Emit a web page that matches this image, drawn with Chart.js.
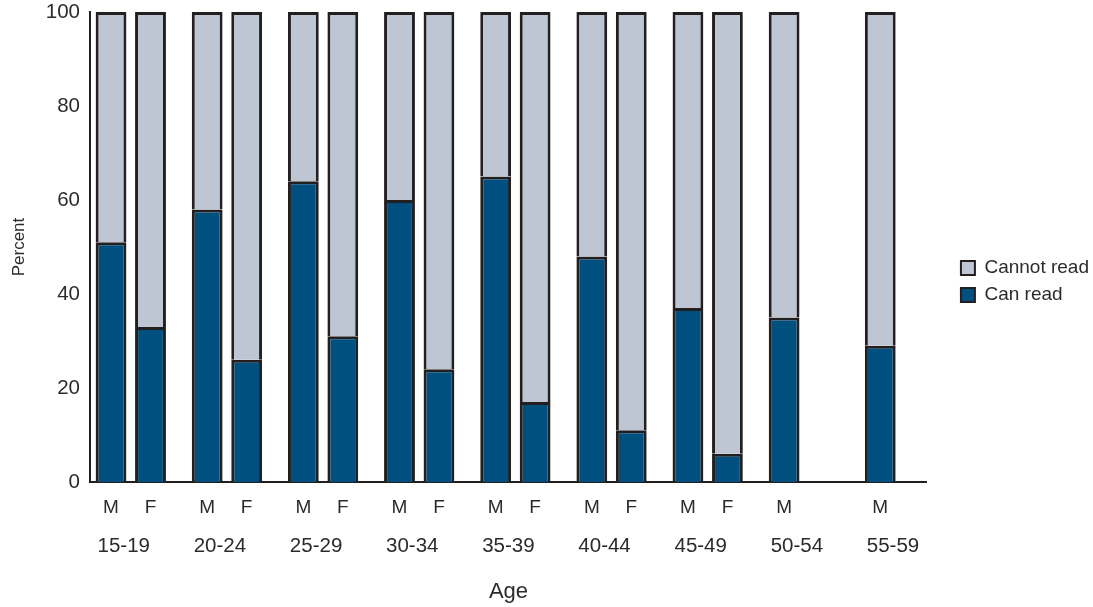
<!DOCTYPE html>
<html>
<head>
<meta charset="utf-8">
<script src="https://cdn.jsdelivr.net/npm/chart.js@4/dist/chart.umd.min.js"></script>
<style>
  html, body { margin: 0; padding: 0; background: #fff; }
  #wrap { width: 1093px; height: 607px; position: relative; }
</style>
</head>
<body>
<div id="wrap"><canvas id="chart"></canvas></div>
<script>
// data
const ageGroups = ['15-19', '20-24', '25-29', '30-34', '35-39', '40-44', '45-49', '50-54', '55-59'];
const maleCanRead = [51, 58, 64, 60, 65, 48, 37, 35, 29];
const maleCannotRead = [49, 42, 36, 40, 35, 52, 63, 65, 71];
const femaleCanRead = [33, 26, 31, 24, 17, 11, 6, null, null];
const femaleCannotRead = [67, 74, 69, 76, 83, 89, 94, null, null];
const sexLabels = ['M', 'F'];
const yTicks = [0, 20, 40, 60, 80, 100];

const DARK = '#00507f';
const LIGHT = '#bec5d3';
const INK = '#231f20';
const TXT = '#2b2b2b';

Chart.defaults.font.family = '"Liberation Sans", Arial, sans-serif';
Chart.defaults.color = TXT;

const toPoints = arr => arr.map((v, i) => ({ x: i, y: v }));

// M / F under each bar, placed from the bar elements
const sexLabelPlugin = {
    id: 'sexLabels',
    afterDatasetsDraw(chart) {
        const { ctx, chartArea } = chart;
        ctx.save();
        ctx.font = '19px "Liberation Sans", Arial, sans-serif';
        ctx.fillStyle = TXT;
        ctx.textAlign = 'center';
        ctx.textBaseline = 'middle';
        [0, 2].forEach((di, k) => {
            const meta = chart.getDatasetMeta(di);
            meta.data.forEach((el, i) => {
                if (chart.data.datasets[di].data[i].y == null) return;
                ctx.fillText(sexLabels[k], el.x, chartArea.bottom + 26);
            });
        });
        ctx.restore();
    }
};

// nudge legend to where it sits in the reference
const legendShift = {
    id: 'legendShift',
    afterLayout(chart) {
        const lg = chart.legend;
        if (!lg) return;
        lg.left += 26; lg.right += 26;
        lg.top -= 27; lg.bottom -= 27;
    }
};

const barStyle = { borderColor: INK, borderWidth: 3 };

new Chart(document.getElementById('chart'), {
    type: 'bar',
    data: {
        datasets: [
            { label: 'Can read', data: toPoints(maleCanRead), stack: 'M', backgroundColor: DARK, ...barStyle },
            { label: 'Cannot read', data: toPoints(maleCannotRead), stack: 'M', backgroundColor: LIGHT, ...barStyle },
            { label: 'Can read', data: toPoints(femaleCanRead), stack: 'F', backgroundColor: DARK, ...barStyle },
            { label: 'Cannot read', data: toPoints(femaleCannotRead), stack: 'F', backgroundColor: LIGHT, ...barStyle }
        ]
    },
    options: {
        responsive: true,
        maintainAspectRatio: false,
        animation: false,
        categoryPercentage: 0.821,
        barPercentage: 0.78,
        layout: { padding: { top: 12, right: 20, bottom: 2, left: 5 } },
        plugins: {
            tooltip: { enabled: false },
            legend: {
                position: 'right',
                labels: {
                    boxWidth: 14,
                    boxHeight: 14,
                    padding: 8,
                    color: TXT,
                    font: { size: 19 },
                    generateLabels(chart) {
                        const items = Chart.defaults.plugins.legend.labels.generateLabels(chart)
                            .filter(it => it.datasetIndex < 2)
                            .reverse();
                        items.forEach(it => { it.lineWidth = 2; });
                        return items;
                    }
                }
            }
        },
        scales: {
            x: {
                type: 'linear',
                min: -0.424,
                max: 8.28,
                offset: false,
                stacked: true,
                grid: { display: false, drawTicks: false },
                border: { display: true, color: INK, width: 2 },
                afterBuildTicks: s => { s.ticks = ageGroups.map((_, i) => ({ value: i })); },
                afterFit: s => { s.height = 123; },
                ticks: {
                    autoSkip: false,
                    maxRotation: 0,
                    padding: 52,
                    labelOffset: -7,
                    color: TXT,
                    font: { size: 20.5 },
                    callback: v => ageGroups[v]
                },
                title: { display: true, text: 'Age', color: TXT, font: { size: 22 }, padding: { top: 24, bottom: 0 } }
            },
            y: {
                stacked: true,
                min: 0,
                max: 100,
                grid: { display: false, drawTicks: false },
                border: { display: true, color: INK, width: 2 },
                afterBuildTicks: s => { s.ticks = yTicks.map(v => ({ value: v })); },
                afterFit: s => { s.width = 85; s.paddingTop = 0; s.paddingBottom = 0; },
                ticks: { padding: 10, color: TXT, font: { size: 20.5 } },
                title: { display: true, text: 'Percent', color: TXT, font: { size: 17 }, padding: { top: 4, bottom: 14 } }
            }
        }
    },
    plugins: [sexLabelPlugin, legendShift]
});
</script>
</body>
</html>
